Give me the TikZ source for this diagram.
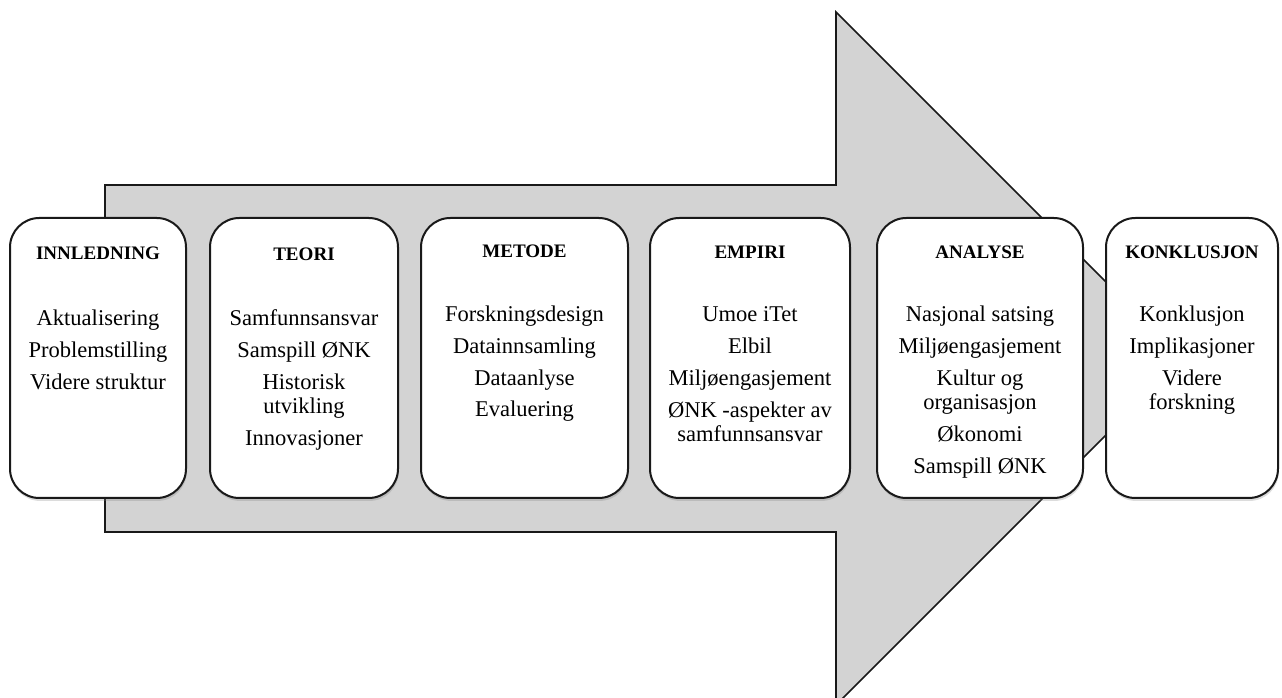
\documentclass[tikz,border=0pt]{standalone}
\usepackage{fontspec}
\setmainfont{Liberation Serif}
\usetikzlibrary{shadows}
\definecolor{arrowgray}{RGB}{211,211,211}
\definecolor{edgeink}{RGB}{25,25,25}
\tikzset{
  stagebox/.style={draw=edgeink, line width=1.5pt, fill=white, rounded corners=22pt,
    minimum height=210pt, inner sep=0pt,
    drop shadow={opacity=0.28, shadow xshift=0.6pt, shadow yshift=-2.2pt}},
  stagetitle/.style={anchor=base, inner sep=0pt, font=\fontsize{14.3}{16}\selectfont\bfseries},
  stageitem/.style={anchor=base, inner sep=0pt, font=\fontsize{16.9}{18}\selectfont},
  flow/.style={fill=arrowgray, draw=edgeink, line width=1.2pt, line join=miter}
}
\begin{document}
\begin{tikzpicture}[x=0.75pt,y=-0.75pt]
\useasboundingbox (0,0) rectangle (1282,698);

% big block arrow behind the stages
\begin{scope}
  \clip (0,0) rectangle (1282,698);
  \draw[flow] (105,185) -- (836,185) -- (836,12) -- (1182.5,358.5)
              -- (836,705) -- (836,532) -- (105,532) -- cycle;
\end{scope}

% stage boxes with headings
\foreach \name/\cx/\w/\title/\ty in {
    b1/98/176/INNLEDNING/260,
    b2/304/188/TEORI/261,
    b3/524.5/207/METODE/258,
    b4/750/200/EMPIRI/259,
    b5/980/206/ANALYSE/259,
    b6/1192/172/KONKLUSJON/259} {
  \node[stagebox, minimum width=\w*0.75pt] (\name) at (\cx,358) {};
  \node[stagetitle] (\name-title) at (\cx,\ty) {\title};
}

% contents of each stage
\foreach \y/\t [count=\i] in {326/Aktualisering, 358/Problemstilling, 390/Videre struktur}
  \node[stageitem] (b1-\i) at (98,\y) {\t};
\foreach \y/\t [count=\i] in {326/Samfunnsansvar, 358/Samspill ØNK, 390/Historisk,
    414/utvikling, 446/Innovasjoner}
  \node[stageitem] (b2-\i) at (304,\y) {\t};
\foreach \y/\t [count=\i] in {322/Forskningsdesign, 354/Datainnsamling, 386/Dataanlyse,
    417/Evaluering}
  \node[stageitem] (b3-\i) at (524.5,\y) {\t};
\foreach \y/\t [count=\i] in {322/Umoe iTet, 354/Elbil, 386/Miljøengasjement,
    418/ØNK -aspekter av, 442/samfunnsansvar}
  \node[stageitem] (b4-\i) at (750,\y) {\t};
\foreach \y/\t [count=\i] in {322/Nasjonal satsing, 354/Miljøengasjement, 386/Kultur og,
    410/organisasjon, 442/Økonomi, 474/Samspill ØNK}
  \node[stageitem] (b5-\i) at (980,\y) {\t};
\foreach \y/\t [count=\i] in {322/Konklusjon, 354/Implikasjoner, 386/Videre, 410/forskning}
  \node[stageitem] (b6-\i) at (1192,\y) {\t};
\end{tikzpicture}
\end{document}
